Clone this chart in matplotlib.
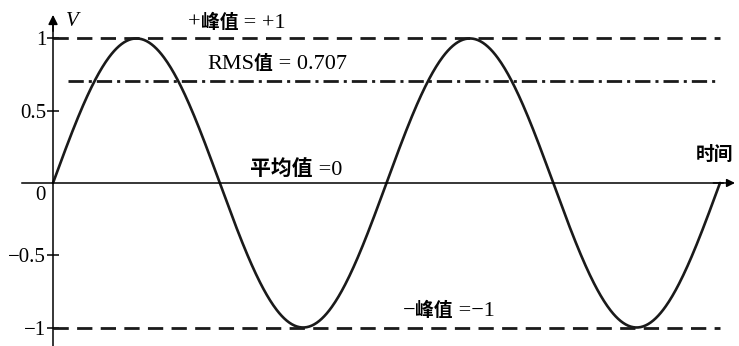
import numpy as np
import matplotlib
matplotlib.use("Agg")
import matplotlib.pyplot as plt

plt.rcParams["lines.scale_dashes"] = False

# chart values
peak = 1.0
rms = 0.707
mean = 0.0
cycles = 2
ytick_values = [1, 0.5, -0.5, -1]
ytick_labels = ["1", "0.5", "\u22120.5", "\u22121"]

LATIN = "Liberation Serif"
CJK = "Noto Sans CJK SC"


def rich_text(ax, x, y, pieces, latin_size=16, cjk_size=13.5):
    """Draw pieces (text, is_cjk) side by side on one baseline, left at x."""
    renderer = ax.figure.canvas.get_renderer()
    inv = ax.transData.inverted()
    for s, is_cjk in pieces:
        if is_cjk:
            t = ax.text(x, y, s, family=CJK, weight="bold", fontsize=cjk_size,
                        va="baseline", ha="left")
        else:
            t = ax.text(x, y, s, family=LATIN, fontsize=latin_size,
                        va="baseline", ha="left")
        bb = t.get_window_extent(renderer)
        x = inv.transform((bb.x1, bb.y0))[0]


fig = plt.figure(figsize=(7.39, 3.46), dpi=100)
ax = fig.add_axes([0, 0, 1, 1])
ax.set_xlim(-0.159, 2.057)
ax.set_ylim(-1.128, 1.266)

# axes through the origin
for side in ("top", "right"):
    ax.spines[side].set_visible(False)
ax.spines["left"].set_position(("data", 0))
ax.spines["bottom"].set_position(("data", 0))
ax.spines["left"].set_bounds(-1.128, 1.12)
ax.spines["bottom"].set_bounds(-0.093, 2.01)
for side in ("left", "bottom"):
    ax.spines[side].set_linewidth(1.1)
ax.annotate("", xy=(0, 1.163), xytext=(0, 1.05),
            arrowprops=dict(arrowstyle="-|>", color="black", lw=1.1,
                            mutation_scale=14, shrinkA=0, shrinkB=0))
ax.annotate("", xy=(2.045, 0), xytext=(1.98, 0),
            arrowprops=dict(arrowstyle="-|>", color="black", lw=1.1,
                            mutation_scale=12, shrinkA=0, shrinkB=0))

ax.set_xticks([])
ax.set_yticks(ytick_values)
ax.set_yticklabels(ytick_labels, family=LATIN, fontsize=15)
ax.tick_params(axis="y", direction="inout", length=8, width=1.1, pad=1)

# sine wave
t = np.linspace(0, cycles, 800)
ax.plot(t, peak * np.sin(2 * np.pi * t), color="#1a1a1a", lw=1.9,
        solid_capstyle="round")

# reference levels
ax.plot([0, cycles], [peak, peak], color="#1a1a1a", lw=2.0,
        dashes=(11, 6))
ax.plot([0, cycles], [-peak, -peak], color="#1a1a1a", lw=2.0,
        dashes=(11, 6))
ax.plot([0.045, 1.99], [rms, rms], color="#1a1a1a", lw=2.0,
        dashes=(11, 3.6, 2.2, 3.6))

# labels
rich_text(ax, 0.405, 1.073, [("+", False), ("峰值", True), (" = +1", False)])
rich_text(ax, 0.462, 0.789, [("RMS", False), ("值", True), (" = 0.707", False)])
rich_text(ax, 0.591, 0.055, [("平均值", True), (" =0", False)], cjk_size=15)
rich_text(ax, 1.049, -0.920, [("\u2212", False), ("峰值", True),
                             (" =\u22121", False)])
ax.text(1.985, 0.194, "时间", family=CJK, fontsize=13.5,
        weight="bold", ha="center", va="center")
ax.text(0.057, 1.114, "V", family=LATIN, style="italic",
        fontsize=15, ha="center", va="center")
ax.text(-0.039, -0.09, "0", family=LATIN, fontsize=15,
        ha="center", va="center")

fig.savefig("out.png", dpi=100)
